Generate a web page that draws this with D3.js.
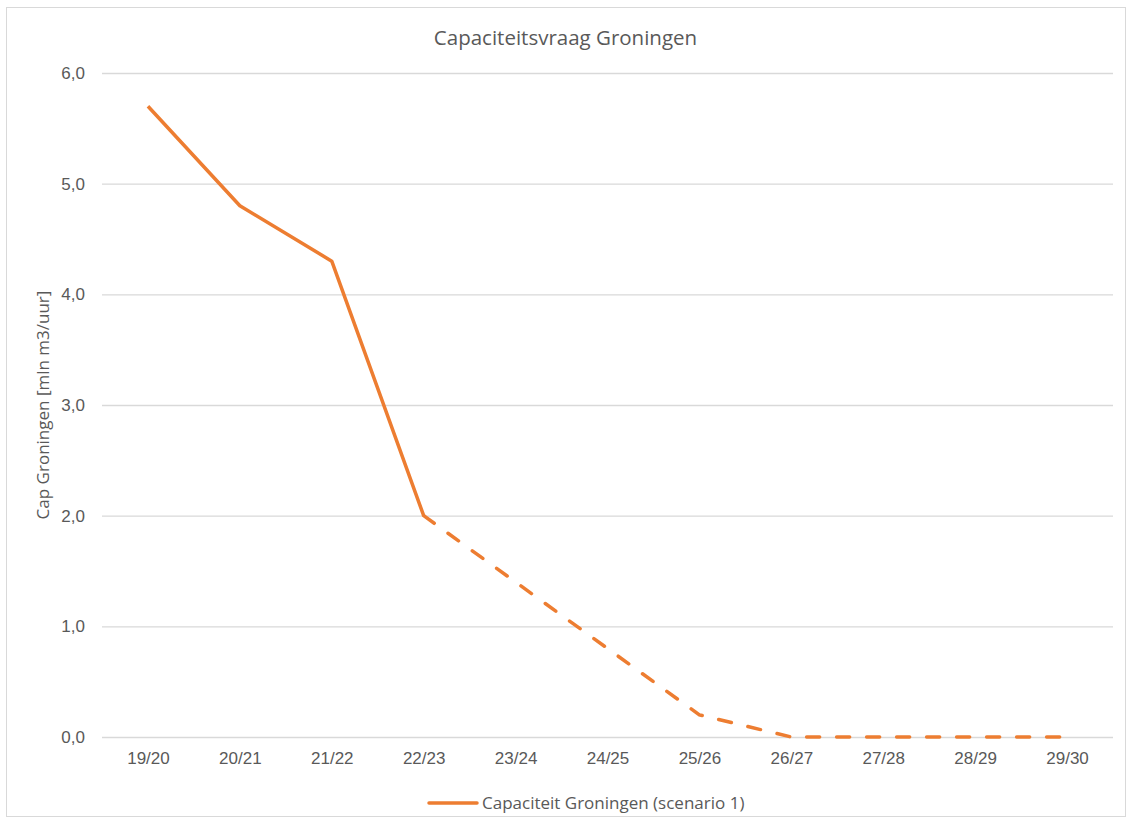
<!DOCTYPE html>
<html>
<head>
<meta charset="utf-8">
<script src="https://cdn.jsdelivr.net/npm/d3@7"></script>
<style>
  body { margin: 0; background: #fff; }
  svg { display: block; font-family: "Open Sans", "Noto Sans", sans-serif; }
</style>
</head>
<body>
<div id="chart"></div>
<script>
// data
const seasons = ['19/20','20/21','21/22','22/23','23/24','24/25','25/26','26/27','27/28','28/29','29/30'];
const capaciteit = [5.7, 4.8, 4.3, 2.0, 1.4, 0.8, 0.2, 0.0, 0.0, 0.0, 0.0];
const lastSolid = 3;   // vanaf 22/23 gestippeld (prognose)
const yTicks = [0, 1, 2, 3, 4, 5, 6];
const title = 'Capaciteitsvraag Groningen';
const yTitle = 'Cap Groningen [mln m3/uur]';
const seriesName = 'Capaciteit Groningen (scenario 1)';

const width = 1131, height = 825;
const margin = {top: 73, right: 18, bottom: 88, left: 102};
const orange = '#ed7d31', grey = '#595959', gridCol = '#d9d9d9';

const svg = d3.select('#chart').append('svg')
  .attr('width', width)
  .attr('height', height);

// chart border
svg.append('rect')
  .attr('x', 6.5).attr('y', 7.5)
  .attr('width', width - 12).attr('height', height - 16)
  .attr('fill', 'none')
  .attr('stroke', gridCol);

const x = d3.scalePoint()
  .domain(seasons)
  .range([margin.left, width - margin.right])
  .padding(0.5);

const y = d3.scaleLinear()
  .domain([0, 6])
  .range([height - margin.bottom, margin.top]);

// gridlines + y labels
const yAxis = svg.append('g')
  .attr('transform', `translate(${margin.left},0)`)
  .call(d3.axisLeft(y)
    .tickValues(yTicks)
    .tickSize(-(width - margin.left - margin.right))
    .tickPadding(17)
    .tickFormat(d => d3.format('.1f')(d).replace('.', ',')));
yAxis.select('.domain').remove();
yAxis.selectAll('line').attr('stroke', gridCol).attr('stroke-width', 1.3);
yAxis.selectAll('text').attr('fill', grey).style('font-size', '17px');

// x labels
const xAxis = svg.append('g')
  .attr('transform', `translate(0,${height - margin.bottom})`)
  .call(d3.axisBottom(x).tickSize(0).tickPadding(15));
xAxis.select('.domain').remove();
xAxis.selectAll('text').attr('fill', grey).style('font-size', '17px');

// line: solid t/m 22/23, daarna gestreept
svg.append('path')
  .datum(capaciteit.slice(0, lastSolid + 1))
  .attr('d', d3.line().x((d, i) => x(seasons[i])).y(d => y(d)))
  .attr('fill', 'none')
  .attr('stroke', orange)
  .attr('stroke-width', 3.5)
  .attr('stroke-linejoin', 'round');

svg.append('path')
  .datum(capaciteit.slice(lastSolid))
  .attr('d', d3.line().x((d, i) => x(seasons[i + lastSolid])).y(d => y(d)))
  .attr('fill', 'none')
  .attr('stroke', orange)
  .attr('stroke-width', 3.5)
  .attr('stroke-linecap', 'round')
  .attr('stroke-dasharray', '13,17');

// title
svg.append('text')
  .attr('x', width / 2)
  .attr('y', 45)
  .attr('text-anchor', 'middle')
  .attr('fill', grey)
  .style('font-size', '20.5px')
  .text(title);

// y axis title
svg.append('text')
  .attr('transform', `translate(49,${(y(0) + y(6)) / 2}) rotate(-90)`)
  .attr('text-anchor', 'middle')
  .attr('fill', grey)
  .style('font-size', '17px')
  .text(yTitle);

// legend
const legend = svg.append('g').attr('transform', 'translate(429,803)');
legend.append('line')
  .attr('x1', 0).attr('x2', 48)
  .attr('stroke', orange)
  .attr('stroke-width', 3.5)
  .attr('stroke-linecap', 'round');
legend.append('text')
  .attr('x', 53)
  .attr('dy', '0.35em')
  .attr('fill', grey)
  .style('font-size', '17px')
  .text(seriesName);
</script>
</body>
</html>
